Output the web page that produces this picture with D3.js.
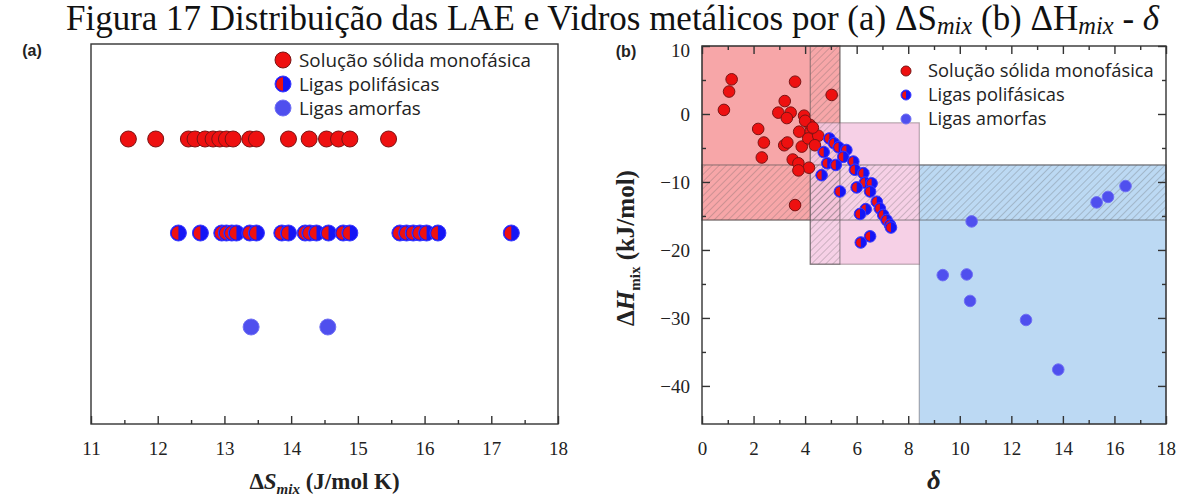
<!DOCTYPE html>
<html><head><meta charset="utf-8">
<script src="https://cdn.jsdelivr.net/npm/d3@7"></script>
<style>body{margin:0;background:#fff}</style>
</head><body>
<svg id="c" width="1184" height="500"></svg>
<script>
// ---------- DATA ----------
const seriesNames = ["Solução sólida monofásica", "Ligas polifásicas", "Ligas amorfas"];
// Panel (a): ΔSmix (J/mol K) for each class
const dsSolid = [11.56, 11.97, 12.46, 12.56, 12.71, 12.83, 12.93, 13.03, 13.13, 13.38, 13.48, 13.96, 14.27, 14.53, 14.71, 14.88, 15.46];
const dsPoly = [12.31, 12.64, 12.96, 13.03, 13.11, 13.18, 13.38, 13.48, 13.86, 13.96, 14.21, 14.28, 14.38, 14.56, 14.78, 14.88, 15.63, 15.73, 15.83, 15.93, 16.03, 16.2, 17.3];
const dsAmorph = [13.4, 14.55];
const xTicksA = [11, 12, 13, 14, 15, 16, 17, 18];
// Panel (b): δ and ΔHmix (kJ/mol)
const deltaSolid = [1.15, 1.05, 0.85, 3.61, 5.03, 3.21, 2.96, 3.44, 3.29, 3.96, 2.18, 2.4, 2.32, 3.19, 3.31, 3.87, 3.77, 4.19, 4.22, 4.12, 4.51, 4.38, 3.52, 3.74, 4.15, 3.74, 3.61, 4.0, 4.3];
const dhSolid    = [5.1, 3.3, 0.6, 4.75, 2.8, 1.9, 0.2, 0.2, -0.6, -0.25, -2.2, -4.2, -6.4, -4.6, -4.2, -4.8, -2.6, -1.6, -2.6, -3.6, -3.2, -4.6, -6.7, -7.25, -7.9, -8.3, -13.4, -1.0, -2.0];
const deltaPoly = [4.94, 5.12, 5.3, 5.6, 4.72, 5.48, 5.87, 4.86, 5.19, 4.64, 5.93, 6.26, 6.32, 6.58, 6.52, 5.35, 6.0, 6.78, 6.9, 6.35, 6.13, 7.03, 7.16, 7.29, 7.33, 6.52, 6.16];
const dhPoly    = [-3.6, -4.3, -4.9, -5.3, -5.6, -6.3, -7.0, -7.25, -7.5, -9.0, -8.2, -8.7, -10.1, -10.2, -11.4, -11.4, -10.8, -12.9, -13.9, -14.0, -14.7, -14.85, -15.6, -16.3, -16.7, -18.0, -18.9];
const deltaAmorph = [10.46, 9.34, 10.27, 10.4, 12.57, 13.82, 15.31, 15.75, 16.43];
const dhAmorph    = [-15.8, -23.7, -23.6, -27.5, -30.3, -37.6, -13.0, -12.2, -10.6];
const xTicksB = [0, 2, 4, 6, 8, 10, 12, 14, 16, 18];
const yTicksB = [10, 0, -10, -20, -30, -40];
// shaded regions of panel (b): [δmin, δmax, ΔHmin, ΔHmax]
const regionSolid = [0, 5.35, -15.6, 10];
const regionPoly = [4.2, 8.43, -22.1, -1.3];
const regionAmorph = [8.43, 18, -45.6, -7.5];
const bandDelta = [4.2, 5.35, -22.1, 10];
const bandDH = [0, 18, -15.6, -7.5];

// ---------- SETUP ----------
const svg = d3.select("#c");
const defs = svg.append("defs");
const hatch = defs.append("pattern").attr("id", "hatch").attr("patternUnits", "userSpaceOnUse")
  .attr("width", 5).attr("height", 5).attr("patternTransform", "rotate(45)");
hatch.append("line").attr("x1", 0).attr("y1", 0).attr("x2", 0).attr("y2", 5)
  .attr("stroke", "rgba(90,90,90,0.5)").attr("stroke-width", 1.1);

const serif = "'Liberation Serif', 'Times New Roman', serif";
const sans = "'Open Sans', 'Liberation Sans', sans-serif";

function fitWidth(sel, target) {
  const w = sel.node().getBBox().width;
  const fs = parseFloat(sel.attr("font-size"));
  sel.attr("font-size", fs * target / w);
}

// ---------- TITLE ----------
const title = svg.append("text").attr("x", 66).attr("y", 30)
  .attr("font-family", serif).attr("font-size", 27).attr("fill", "#111");
title.append("tspan").text("Figura 17 Distribuição das LAE e Vidros metálicos por (a) ΔS");
title.append("tspan").attr("font-style", "italic").attr("font-size", "0.7em").attr("dy", 4).text("mix");
title.append("tspan").attr("dy", -4).text(" (b) ΔH");
title.append("tspan").attr("font-style", "italic").attr("font-size", "0.7em").attr("dy", 4).text("mix");
title.append("tspan").attr("dy", -4).text(" - ");
title.append("tspan").attr("font-style", "italic").text("δ");
fitWidth(title, 1094);

function styleAxis(g) {
  g.attr("font-family", serif).attr("font-size", 19);
  g.selectAll(".domain").remove();
  g.selectAll("line").attr("stroke", "#333").attr("stroke-width", 1.4);
  g.selectAll("text").style("font-family", serif).style("font-size", "19px").attr("fill", "#222");
}

// ---------- PANEL (a) ----------
const A = {x0: 91, x1: 558, y0: 44, y1: 424};
const xA = d3.scaleLinear().domain([11, 18]).range([A.x0, A.x1]);
const yA = d3.scalePoint().domain(seriesNames).range([139, 327]);
const gA = svg.append("g");

gA.append("rect").attr("x", A.x0).attr("y", A.y0).attr("width", A.x1 - A.x0).attr("height", A.y1 - A.y0)
  .attr("fill", "none").attr("stroke", "#333").attr("stroke-width", 1.4);
const gAx1 = gA.append("g").attr("transform", `translate(0,${A.y1})`)
  .call(d3.axisBottom(xA).tickValues(xTicksA).tickSizeInner(-8).tickSizeOuter(0).tickPadding(18).tickFormat(d3.format("d")));
const gAx2 = gA.append("g").attr("transform", `translate(0,${A.y1})`)
  .call(d3.axisBottom(xA).tickValues(d3.range(11.5, 18, 1)).tickSizeInner(-4).tickSizeOuter(0).tickFormat(""));
styleAxis(gAx1); styleAxis(gAx2);

// markers
const RED = "#ee1010", REDS = "#7a1414", BLUE = "#1515f5", AMOR = "#4f4fee";
function solidMarker(g, x, y, r) {
  g.append("circle").attr("cx", x).attr("cy", y).attr("r", r).attr("fill", RED).attr("stroke", REDS).attr("stroke-width", 1);
}
function polyMarker(g, x, y, r) {
  g.append("circle").attr("cx", x).attr("cy", y).attr("r", r).attr("fill", BLUE).attr("stroke", "#3a3aff").attr("stroke-width", 1);
  g.append("path").attr("transform", `translate(${x},${y})`)
    .attr("d", d3.arc().innerRadius(0).outerRadius(r - 1.2).startAngle(Math.PI).endAngle(2 * Math.PI)())
    .attr("fill", RED);
}
function amorphMarker(g, x, y, r) {
  g.append("circle").attr("cx", x).attr("cy", y).attr("r", r).attr("fill", AMOR).attr("stroke", "#6f6ff5").attr("stroke-width", 1);
}

dsSolid.forEach(v => solidMarker(gA, xA(v), yA(seriesNames[0]), 8));
dsPoly.forEach(v => polyMarker(gA, xA(v), yA(seriesNames[1]), 8));
dsAmorph.forEach(v => amorphMarker(gA, xA(v), yA(seriesNames[2]), 8));

// legend (a)
const legA = svg.append("g");
const legRowsA = [60, 84, 108];
[solidMarker, polyMarker, amorphMarker].forEach((f, i) => f(legA, 283, legRowsA[i], 8));
const legTextsA = seriesNames.map((s, i) => legA.append("text").attr("x", 299).attr("y", legRowsA[i]).attr("dy", "0.35em")
  .attr("font-family", sans).attr("font-size", 16).attr("fill", "#222").text(s));
fitWidth(legTextsA[0], 232);
legTextsA[1].attr("font-size", legTextsA[0].attr("font-size"));
legTextsA[2].attr("font-size", legTextsA[0].attr("font-size"));

svg.append("text").attr("x", 32).attr("y", 56).attr("text-anchor", "middle").attr("font-family", "'Liberation Sans', Arial, sans-serif")
  .attr("font-weight", "bold").attr("font-size", 16).attr("fill", "#222").text("(a)");

// x title (a)
const tA = svg.append("text").attr("x", (A.x0 + A.x1) / 2).attr("y", 489).attr("text-anchor", "middle")
  .attr("font-family", serif).attr("font-weight", "bold").attr("font-size", 23).attr("fill", "#222");
tA.append("tspan").text("Δ");
tA.append("tspan").attr("font-style", "italic").text("S");
tA.append("tspan").attr("font-style", "italic").attr("font-size", 15).attr("dy", 5).text("mix");
tA.append("tspan").attr("dy", -5).text(" (J/mol K)");

// ---------- PANEL (b) ----------
const B = {x0: 702, x1: 1166, y0: 46, y1: 424};
const xB = d3.scaleLinear().domain([0, 18]).range([B.x0, B.x1]);
const yB = d3.scaleLinear().domain([-45.6, 10]).range([B.y1, B.y0]);
const gB = svg.append("g");

function rectOf(r) {
  return {x: xB(r[0]), y: yB(r[3]), w: xB(r[1]) - xB(r[0]), h: yB(r[2]) - yB(r[3])};
}
function drawRegion(r, fill, stroke) {
  const q = rectOf(r);
  gB.append("rect").attr("x", q.x).attr("y", q.y).attr("width", q.w).attr("height", q.h)
    .attr("fill", fill).attr("stroke", stroke).attr("stroke-width", 1.2);
}
drawRegion(regionAmorph, "#bcd9f3", "rgba(120,120,130,0.6)");
drawRegion(regionSolid, "#f7a6a8", "rgba(120,90,90,0.5)");
drawRegion(regionPoly, "rgba(244,200,226,0.85)", "rgba(120,100,110,0.5)");
drawRegion(bandDelta, "url(#hatch)", "rgba(80,80,80,0.55)");
drawRegion(bandDH, "url(#hatch)", "rgba(80,80,80,0.55)");

gB.append("rect").attr("x", B.x0).attr("y", B.y0).attr("width", B.x1 - B.x0).attr("height", B.y1 - B.y0)
  .attr("fill", "none").attr("stroke", "#333").attr("stroke-width", 1.4);

const minorY = [5, -5, -15, -25, -35];
const minorX = d3.range(1, 18, 2);
const axB = [
  gB.append("g").attr("transform", `translate(0,${B.y1})`).call(d3.axisBottom(xB).tickValues(xTicksB).tickSizeInner(-8).tickSizeOuter(0).tickPadding(18)),
  gB.append("g").attr("transform", `translate(0,${B.y1})`).call(d3.axisBottom(xB).tickValues(minorX).tickSizeInner(-4).tickSizeOuter(0).tickFormat("")),
  gB.append("g").attr("transform", `translate(0,${B.y0})`).call(d3.axisTop(xB).tickValues(xTicksB).tickSizeInner(-8).tickSizeOuter(0).tickFormat("")),
  gB.append("g").attr("transform", `translate(0,${B.y0})`).call(d3.axisTop(xB).tickValues(minorX).tickSizeInner(-4).tickSizeOuter(0).tickFormat("")),
  gB.append("g").attr("transform", `translate(${B.x0},0)`).call(d3.axisLeft(yB).tickValues(yTicksB).tickSizeInner(-8).tickSizeOuter(0).tickPadding(12)),
  gB.append("g").attr("transform", `translate(${B.x0},0)`).call(d3.axisLeft(yB).tickValues(minorY).tickSizeInner(-4).tickSizeOuter(0).tickFormat("")),
  gB.append("g").attr("transform", `translate(${B.x1},0)`).call(d3.axisRight(yB).tickValues(yTicksB).tickSizeInner(-8).tickSizeOuter(0).tickFormat("")),
  gB.append("g").attr("transform", `translate(${B.x1},0)`).call(d3.axisRight(yB).tickValues(minorY).tickSizeInner(-4).tickSizeOuter(0).tickFormat(""))
];
axB.forEach(g => styleAxis(g));
// nudge the top y label a little below the title
axB[4].selectAll(".tick text").filter(d => d === 10).attr("dy", "0.55em");

deltaSolid.forEach((d, i) => solidMarker(gB, xB(d), yB(dhSolid[i]), 5.8));
deltaPoly.forEach((d, i) => polyMarker(gB, xB(d), yB(dhPoly[i]), 5.8));
deltaAmorph.forEach((d, i) => amorphMarker(gB, xB(d), yB(dhAmorph[i]), 5.8));

// legend (b)
const legB = svg.append("g");
const legRowsB = [71, 95, 119];
[solidMarker, polyMarker, amorphMarker].forEach((f, i) => f(legB, 906, legRowsB[i], 5));
const legTextsB = seriesNames.map((s, i) => legB.append("text").attr("x", 928).attr("y", legRowsB[i]).attr("dy", "0.35em")
  .attr("font-family", sans).attr("font-size", 16).attr("fill", "#222").text(s));
fitWidth(legTextsB[0], 226);
legTextsB[1].attr("font-size", legTextsB[0].attr("font-size"));
legTextsB[2].attr("font-size", legTextsB[0].attr("font-size"));

svg.append("text").attr("x", 626).attr("y", 57).attr("text-anchor", "middle").attr("font-family", "'Liberation Sans', Arial, sans-serif")
  .attr("font-weight", "bold").attr("font-size", 16).attr("fill", "#222").text("(b)");

svg.append("text").attr("x", (B.x0 + B.x1) / 2).attr("y", 489).attr("text-anchor", "middle")
  .attr("font-family", serif).attr("font-weight", "bold").attr("font-style", "italic").attr("font-size", 27).attr("fill", "#222").text("δ");
const tB = svg.append("text").attr("transform", "translate(634,248) rotate(-90)").attr("text-anchor", "middle")
  .attr("font-family", serif).attr("font-weight", "bold").attr("font-size", 25).attr("fill", "#222");
tB.append("tspan").text("Δ");
tB.append("tspan").attr("font-style", "italic").text("H");
tB.append("tspan").attr("font-size", 15).attr("dy", 6).text("mix");
tB.append("tspan").attr("dy", -6).text(" (kJ/mol)");
</script>
</body></html>
